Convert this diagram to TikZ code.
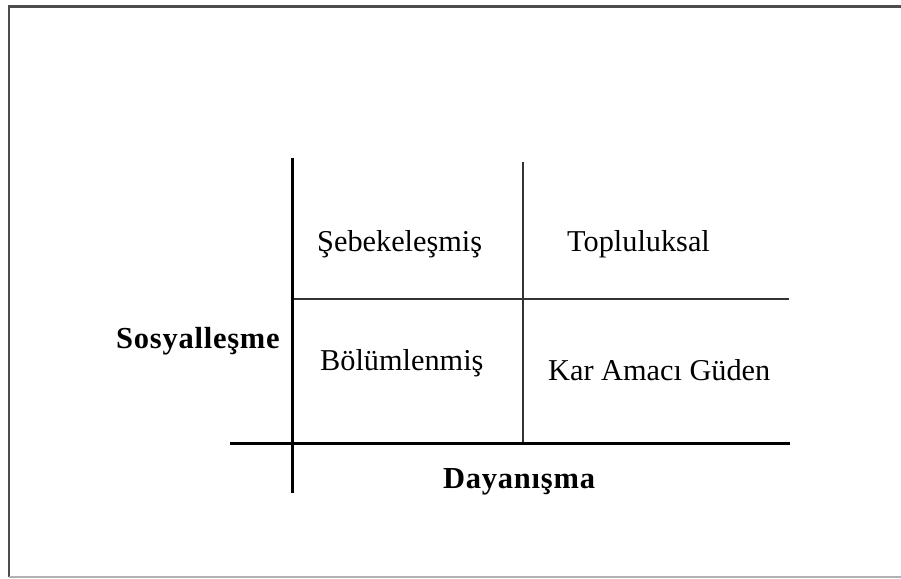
\documentclass[tikz,border=0pt]{standalone}
\usepackage{fontspec}
\setmainfont{Liberation Serif}
\newfontfamily\boldwide[LetterSpace=2.5]{Liberation Serif}
\begin{document}
\begin{tikzpicture}[x=1pt,y=-1pt,
  thickaxis/.style={line width=3pt,black},
  thinline/.style={line width=1.6pt,black!80},
  cell/.style={font=\fontsize{30.3}{33}\selectfont,inner sep=0pt},
  axislabel/.style={font=\boldwide\fontsize{30.5}{33}\selectfont\bfseries,inner sep=0pt}]
\useasboundingbox (0,0) rectangle (901,578);
% frame
\draw[line width=2.5pt,black!70] (9,577) -- (9,6.5) -- (901,6.5);
\draw[line width=2pt,black!30] (9,577) -- (901,577);
% grid
\coordinate (vtop) at (292,158);
\coordinate (vbot) at (292,493);
\coordinate (hl) at (230,443);
\coordinate (hr) at (790,443);
\coordinate (mtop) at (523,162);
\coordinate (mbot) at (523,443);
\coordinate (ml) at (292,299);
\coordinate (mr) at (789,299);
\draw[thinline] (mtop) -- (mbot);
\draw[thinline] (ml) -- (mr);
\draw[thickaxis] (vtop) -- (vbot);
\draw[thickaxis] (hl) -- (hr);
% labels
\node[cell,anchor=west] (seb) at (317,244) {Şebekeleşmiş};
\node[cell,anchor=west] (top) at (567,244) {Topluluksal};
\node[cell,anchor=west] (bol) at (320,363) {Bölümlenmiş};
\node[cell,anchor=west] (kar) at (548,370) {Kar Amacı Güden};
\node[axislabel,anchor=west] (sos) at (116,341) {Sosyalleşme};
\node[axislabel,anchor=west] (day) at (443,482) {Dayanışma};
\end{tikzpicture}
\end{document}
